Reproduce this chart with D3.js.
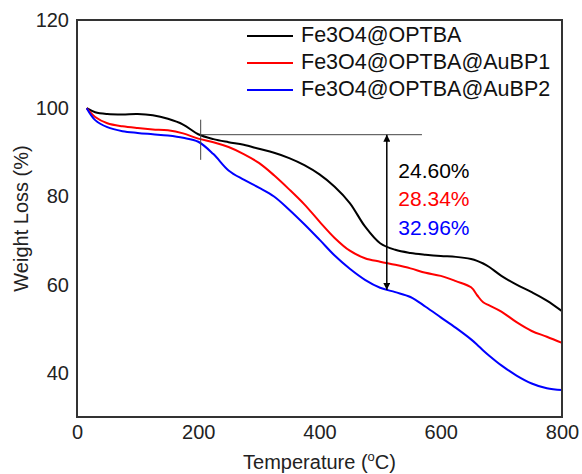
<!DOCTYPE html>
<html>
<head>
<meta charset="utf-8">
<script src="https://cdn.jsdelivr.net/npm/d3@7/dist/d3.min.js"></script>
<style>
  body { margin: 0; background: #fff; }
  svg text { font-family: "Liberation Sans", Arial, sans-serif; }
</style>
</head>
<body>
<svg id="chart" width="582" height="474"></svg>
<script>
// ---- data ----
const temperature = [16, 30, 50, 75, 100, 125, 150, 175, 200, 225, 250, 275, 300, 325, 350, 375, 400, 425, 450, 475, 500, 525, 550, 575, 600, 625, 650, 660, 670, 680, 700, 725, 750, 775, 800];
const optba       = [100, 99.1, 98.7, 98.6, 98.7, 98.4, 97.6, 96.3, 94.1, 93.0, 92.3, 91.7, 90.8, 89.9, 88.7, 87.1, 85.0, 82.2, 78.5, 73.2, 69.4, 67.9, 67.2, 66.8, 66.5, 66.3, 65.8, 65.4, 64.8, 64.0, 62.0, 60.0, 58.3, 56.4, 54.0];
const aubp1       = [100, 98.0, 96.6, 95.9, 95.5, 95.2, 95.0, 94.3, 93.1, 92.3, 91.2, 89.6, 87.6, 84.8, 81.6, 78.2, 74.3, 70.6, 67.7, 66.0, 65.2, 64.5, 63.7, 62.7, 62.0, 60.8, 59.4, 57.6, 56.0, 55.3, 53.9, 51.5, 49.5, 48.2, 46.8];
const aubp2       = [100, 97.3, 95.7, 94.8, 94.4, 94.1, 93.8, 93.3, 92.4, 89.6, 85.9, 83.8, 82.0, 80.0, 77.0, 73.7, 70.2, 66.6, 63.6, 61.1, 59.3, 58.3, 57.2, 55.0, 52.6, 50.2, 47.6, 46.4, 45.1, 43.9, 41.7, 39.4, 37.6, 36.5, 36.1];
const seriesNames = ["Fe3O4@OPTBA", "Fe3O4@OPTBA@AuBP1", "Fe3O4@OPTBA@AuBP2"];
const seriesColors = ["#000000", "#ff0000", "#0000ff"];
const lossLabels = ["24.60%", "28.34%", "32.96%"];
const xTicks = [0, 200, 400, 600, 800];
const yTicks = [40, 60, 80, 100, 120];
// annotation anchors (data units)
const markT = 204, markTop = 97.4, markBottom = 88.3;
const refLevel = 94.0, refEndT = 569;
const arrowT = 511, arrowBottom = 58.8;
const labelT = 530, labelW = [85.5, 79.0, 72.6];

// ---- layout ----
const svg = d3.select("#chart");
const margin = { left: 77, right: 20, top: 20, bottom: 57 };
const W = 582, H = 474;
const x = d3.scaleLinear().domain([0, 800]).range([margin.left, W - margin.right]);
const y = d3.scaleLinear().domain([30, 120]).range([H - margin.bottom, margin.top]);

const series = [optba, aubp1, aubp2];

// curves
const line = d3.line().x(d => x(d[0])).y(d => y(d[1])).curve(d3.curveCatmullRom.alpha(0.5));
series.forEach((vals, i) => {
  svg.append("path")
    .datum(temperature.map((t, j) => [t, vals[j]]))
    .attr("d", line)
    .attr("fill", "none")
    .attr("stroke", seriesColors[i])
    .attr("stroke-width", 2);
});

// frame
svg.append("rect")
  .attr("x", x(0)).attr("y", y(120))
  .attr("width", x(800) - x(0)).attr("height", y(30) - y(120))
  .attr("fill", "none").attr("stroke", "#333").attr("stroke-width", 2);

// tick labels
const xAxis = d3.axisBottom(x).tickValues(xTicks).tickSize(0).tickPadding(8);
const gx = svg.append("g").attr("transform", `translate(0,${y(30)})`).call(xAxis);
gx.select(".domain").remove();
gx.selectAll("text").attr("font-size", 20).attr("fill", "#222")
  .style("font-family", '"Liberation Sans", Arial, sans-serif');

const yAxis = d3.axisLeft(y).tickValues(yTicks).tickSize(0).tickPadding(8);
const gy = svg.append("g").attr("transform", `translate(${x(0)},0)`).call(yAxis);
gy.select(".domain").remove();
gy.selectAll("text").attr("font-size", 20).attr("fill", "#222")
  .style("font-family", '"Liberation Sans", Arial, sans-serif');

// axis titles
const xt = svg.append("text")
  .attr("x", (x(0) + x(800)) / 2).attr("y", 469)
  .attr("text-anchor", "middle").attr("font-size", 20).attr("fill", "#222");
xt.append("tspan").text("Temperature (");
xt.append("tspan").text("o").attr("font-size", 13).attr("dy", -8);
xt.append("tspan").text("C)").attr("dy", 8);

svg.append("text")
  .attr("transform", `translate(28,${(y(30) + y(120)) / 2}) rotate(-90)`)
  .attr("text-anchor", "middle").attr("font-size", 20).attr("fill", "#222")
  .text("Weight Loss (%)");

// annotations
svg.append("line")
  .attr("x1", x(markT)).attr("x2", x(markT))
  .attr("y1", y(markTop)).attr("y2", y(markBottom))
  .attr("stroke", "#444").attr("stroke-width", 1);
svg.append("line")
  .attr("x1", x(markT)).attr("x2", x(refEndT))
  .attr("y1", y(refLevel)).attr("y2", y(refLevel))
  .attr("stroke", "#444").attr("stroke-width", 1);

const defs = svg.append("defs");
defs.append("marker").attr("id", "ah")
  .attr("viewBox", "0 0 10 10").attr("refX", 10).attr("refY", 5)
  .attr("markerWidth", 7).attr("markerHeight", 7).attr("markerUnits", "userSpaceOnUse")
  .attr("orient", "auto-start-reverse")
  .append("path").attr("d", "M0,0 L10,5 L0,10 z").attr("fill", "#000");
svg.append("line")
  .attr("x1", x(arrowT)).attr("x2", x(arrowT))
  .attr("y1", y(refLevel)).attr("y2", y(arrowBottom))
  .attr("stroke", "#000").attr("stroke-width", 1.5)
  .attr("marker-start", "url(#ah)").attr("marker-end", "url(#ah)");

lossLabels.forEach((t, i) => {
  svg.append("text")
    .attr("x", x(labelT)).attr("y", y(labelW[i]))
    .attr("font-size", 21).attr("fill", seriesColors[i])
    .attr("dominant-baseline", "middle")
    .text(t);
});

// legend
seriesNames.forEach((n, i) => {
  const ly = 36 + i * 27;
  svg.append("line").attr("x1", 247).attr("x2", 293).attr("y1", ly).attr("y2", ly)
    .attr("stroke", seriesColors[i]).attr("stroke-width", 2);
  svg.append("text").attr("x", 301).attr("y", ly).attr("dominant-baseline", "middle")
    .attr("font-size", 21.5).attr("fill", "#111").text(n);
});
</script>
</body>
</html>
